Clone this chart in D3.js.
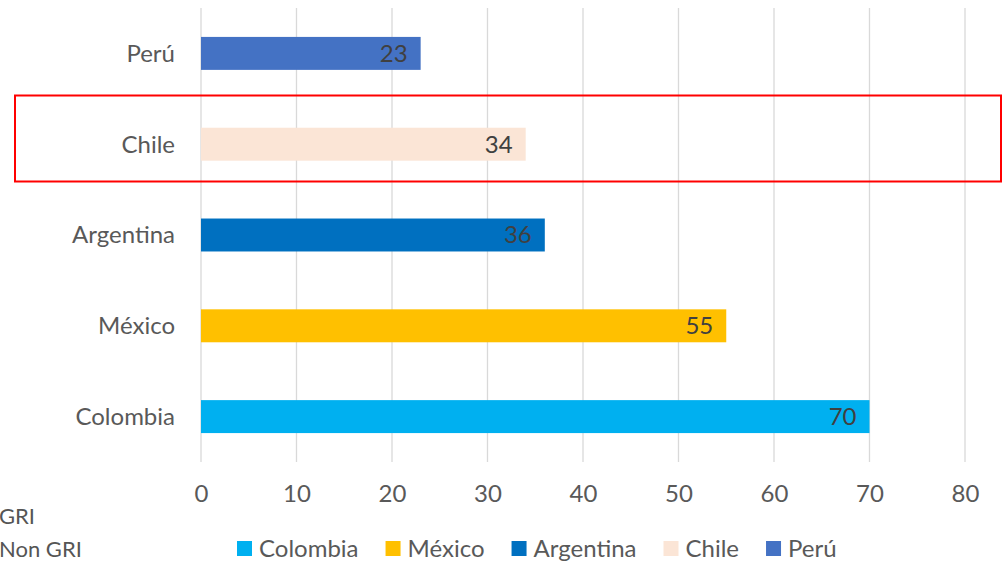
<!DOCTYPE html>
<html><head><meta charset="utf-8">
<script src="https://cdn.jsdelivr.net/npm/d3@7"></script>
<style>body{margin:0;background:#fff}text{font-family:Lato,sans-serif}</style></head>
<body><svg id="c" width="1002" height="561"></svg>
<script>
// Data (top to bottom as displayed)
const categories = ["Perú", "Chile", "Argentina", "México", "Colombia"];
const values = [23, 34, 36, 55, 70];
const colors = ["#4472C4", "#FBE5D6", "#0070C0", "#FFC000", "#00B0F0"];
const tickValues = [0, 10, 20, 30, 40, 50, 60, 70, 80];
const legendOrder = ["Colombia", "México", "Argentina", "Chile", "Perú"];
const sideNotes = ["GRI", "Non GRI"];

const svg = d3.select("#c");
const plot = {left: 201, right: 965, top: 8, bottom: 462};

const x = d3.scaleLinear().domain([0, 80]).range([plot.left, plot.right]);
const y = d3.scaleBand().domain(categories).range([plot.top, plot.bottom])
  .paddingInner(0.637).paddingOuter(0.3185);
const colorOf = d3.scaleOrdinal().domain(categories).range(colors);

// gridlines
svg.append("g").selectAll("line").data(tickValues).join("line")
  .attr("x1", d => x(d)).attr("x2", d => x(d))
  .attr("y1", plot.top).attr("y2", plot.bottom)
  .attr("stroke", "#d9d9d9").attr("stroke-width", 1.3);

// tick labels
const xAxis = d3.axisBottom(x).tickValues(tickValues).tickSize(0).tickPadding(0);
const gx = svg.append("g").attr("transform", `translate(0,${plot.bottom})`).call(xAxis);
gx.select(".domain").remove();
gx.selectAll("text").attr("dy", null).attr("y", 34).attr("dominant-baseline", "middle")
  .style("font-family", "Lato").style("font-size", "24px").attr("fill", "#595959");

// category labels
const yAxis = d3.axisLeft(y).tickSize(0).tickPadding(0);
const gy = svg.append("g").attr("transform", `translate(${plot.left - 26},0)`).call(yAxis);
gy.select(".domain").remove();
gy.selectAll("text").attr("dy", "0.35em").attr("x", 0)
  .style("font-family", "Lato").style("font-size", "24px").attr("fill", "#595959");

// bars
svg.append("g").selectAll("rect").data(categories).join("rect")
  .attr("x", x(0)).attr("y", d => y(d))
  .attr("width", (d, i) => x(values[i]) - x(0)).attr("height", y.bandwidth())
  .attr("fill", d => colorOf(d));

// value labels
svg.append("g").selectAll("text").data(categories).join("text")
  .attr("x", (d, i) => x(values[i]) - 13)
  .attr("y", d => y(d) + y.bandwidth() / 2)
  .attr("dy", "0.35em").attr("text-anchor", "end")
  .style("font-size", "24px").attr("fill", "#404040")
  .text((d, i) => values[i]);

// legend
const lg = svg.append("g");
let lx = 237;
legendOrder.forEach(name => {
  lg.append("rect").attr("x", lx).attr("y", 541).attr("width", 15).attr("height", 15).attr("fill", colorOf(name));
  const t = lg.append("text").attr("x", lx + 22).attr("y", 548.5).attr("dy", "0.35em")
    .style("font-size", "24px").attr("fill", "#595959").text(name);
  lx += 22 + t.node().getComputedTextLength() + 27;
});

// red highlight box around Chile row
svg.append("rect").attr("x", 15).attr("y", 95.5).attr("width", 986).attr("height", 86)
  .attr("fill", "none").attr("stroke", "#FF0000").attr("stroke-width", 2);

// cut-off side notes at the left
svg.append("g").selectAll("text").data(sideNotes).join("text")
  .attr("x", -1).attr("y", (d, i) => 524 + i * 33)
  .style("font-family", "Lato").style("font-size", "22px").attr("fill", "#555555")
  .text(d => d);
</script></body></html>
